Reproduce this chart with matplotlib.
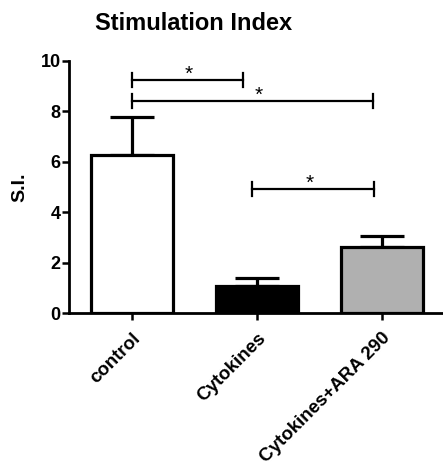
import matplotlib
matplotlib.use('Agg')
import matplotlib.pyplot as plt

plt.rcParams['font.family'] = ['Liberation Sans', 'DejaVu Sans']

groups = ['control', 'Cytokines', 'Cytokines+ARA 290']
si_mean = [6.27, 1.07, 2.63]
si_err = [1.5, 0.32, 0.42]
bar_colors = ['white', 'black', '#b0b0b0']
# significance brackets: (x start, x end, height, star x)
brackets = [(0.0, 0.89, 9.25, 0.456), (0.0, 1.93, 8.42, 1.016), (0.96, 1.94, 4.92, 1.424)]

fig = plt.figure(figsize=(4.43, 4.68), dpi=100)
ax = fig.add_axes([0.156, 0.331, 0.844, 0.539])

x = range(len(groups))
ax.bar(x, si_mean, width=0.66, color=bar_colors, edgecolor='black', linewidth=2.3, zorder=2)
ax.errorbar(x, si_mean, yerr=[[0, 0, 0], si_err], fmt='none', ecolor='black',
            elinewidth=2.3, capsize=16, capthick=2.3, zorder=1)

for x0, x1, h, sx in brackets:
    ax.plot([x0, x1], [h, h], color='black', lw=1.6)
    ax.plot([x0, x0], [h - 0.28, h + 0.28], color='black', lw=1.6)
    ax.plot([x1, x1], [h - 0.28, h + 0.28], color='black', lw=1.6)
    ax.text(sx, h, '*', ha='center', va='baseline', fontsize=15)

ax.set_xlim(-0.505, 2.49)
ax.set_ylim(0, 10)
ax.set_yticks([0, 2, 4, 6, 8, 10])
ax.set_xticks(list(x))
ax.set_xticklabels(groups, rotation=45, ha='right', rotation_mode='anchor',
                   fontweight='bold', fontsize=13.5)
for lab in ax.get_yticklabels():
    lab.set_fontweight('bold')
ax.tick_params(axis='y', labelsize=13, width=1.8, length=5, pad=1)
ax.tick_params(axis='x', width=1.8, length=5, pad=7)
ax.spines['top'].set_visible(False)
ax.spines['right'].set_visible(False)
ax.spines['left'].set_linewidth(2.0)
ax.spines['bottom'].set_linewidth(2.0)
fig.text(0.044, 0.60, 'S.I.', rotation=90, ha='center', va='center',
         fontweight='bold', fontsize=14)
fig.text(0.438, 0.949, 'Stimulation Index', ha='center', va='center',
         fontweight='bold', fontsize=17)

fig.savefig('out.png', dpi=100)
